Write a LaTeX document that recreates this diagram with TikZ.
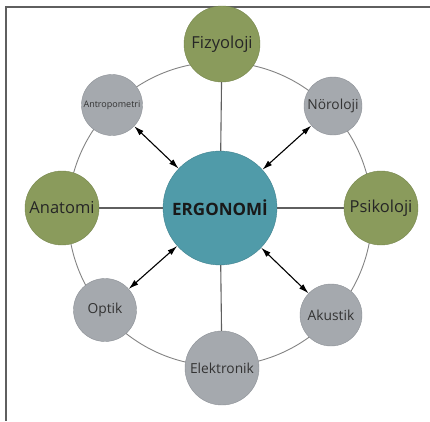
\documentclass[tikz,border=0pt]{standalone}
\usepackage{fontspec}
\setmainfont{Open Sans}
\usetikzlibrary{arrows.meta}
\definecolor{ergoteal}{RGB}{80,155,169}
\definecolor{yesil}{RGB}{138,155,92}
\definecolor{yesilkenar}{RGB}{118,134,76}
\definecolor{gri}{RGB}{165,169,174}
\definecolor{grikenar}{RGB}{140,144,150}
\definecolor{cizgi}{RGB}{95,95,95}
\definecolor{halka}{RGB}{130,130,130}
\begin{document}
\begin{tikzpicture}[x=1pt,y=-1pt,
	anadal/.style={circle,draw=yesilkenar,fill=yesil,inner sep=0pt,text=black!85,font=\fontsize{16.5}{18}\selectfont},
	yandal/.style={circle,draw=grikenar,fill=gri,inner sep=0pt,text=black!80,font=\fontsize{13.8}{16}\selectfont},
	kol/.style={draw=cizgi,line width=1.1pt},
	ok/.style={<->,>={Latex[length=10pt,width=6pt]},line width=1.1pt,black}]
	\useasboundingbox (0,0) rectangle (430,421);
	\draw[cizgi,line width=1.3pt] (430,7) -- (6,7) -- (6,421);
	\draw[halka,line width=0.9pt] (220,214) circle (152pt);
	% merkez
	\node[circle,fill=ergoteal,draw=ergoteal!85!black,minimum size=114pt,inner sep=0pt,text=black!90,font=\fontsize{17}{19}\bfseries] (ergo) at (220,208) {ERGONOM\.{I}};
	% ana dallar
	\node[anadal,minimum size=76pt] (fizyo) at (222,44) {Fizyoloji};
	\node[anadal,minimum size=74pt] (anat) at (62,208) {Anatomi};
	\node[anadal,minimum size=74pt] (psiko) at (381,208) {Psikoloji};
	\node[yandal,minimum size=74pt] (elek) at (222,368) {Elektronik};
	% yan dallar
	\node[yandal,minimum size=61pt,font=\fontsize{9}{11}\selectfont] (antro) at (112,105) {Antropometri};
	\node[yandal,minimum size=58pt] (noro) at (333,106) {Nöroloji};
	\node[yandal,minimum size=63pt] (optik) at (105,310) {Optik};
	\node[yandal,minimum size=62pt] (akus) at (331,315) {Akustik};
	\draw[kol] (ergo) -- (fizyo);
	\draw[kol] (ergo) -- (anat);
	\draw[kol] (ergo) -- (psiko);
	\draw[kol] (ergo) -- (elek);
	\draw[ok] (antro) -- (ergo);
	\draw[ok] (noro) -- (ergo);
	\draw[ok] (optik) -- (ergo);
	\draw[ok] (akus) -- (ergo);
\end{tikzpicture}
\end{document}
